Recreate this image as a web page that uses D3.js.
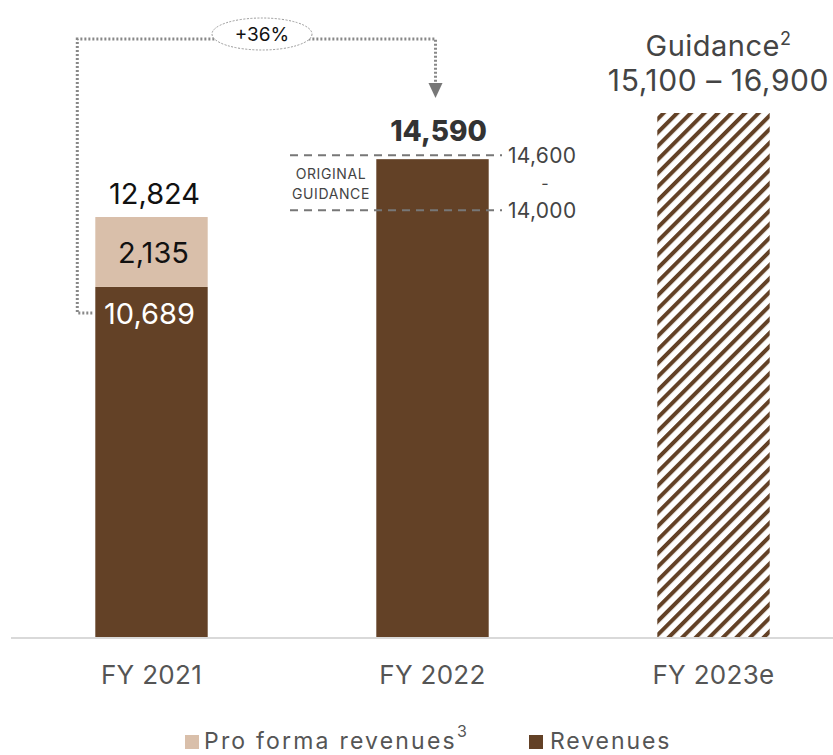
<!DOCTYPE html>
<html><head><meta charset="utf-8">
<script src="https://cdn.jsdelivr.net/npm/d3@7"></script>
<style>
body{margin:0;background:#fff;}
text{font-family:Inter, "Open Sans", sans-serif;}
</style></head>
<body><svg id="c" width="833" height="755"></svg>
<script>
const categories = ["FY 2021","FY 2022","FY 2023e"];
const revenues = [10689, 14590, null];
const proForma = [2135, 0, null];
const totals = [12824, 14590, null];
const guidanceMid = 16000;
const guidanceLabel = ["Guidance", "15,100 – 16,900"];
const originalGuidance = ["14,600", "14,000"];
const growthLabel = "+36%";
const legendItems = ["Pro forma revenues", "Revenues"];

const brown = "#634126", tan = "#d9bfaa";
const svg = d3.select("#c");
const x = d3.scaleBand().domain(categories).range([11, 854]).paddingInner(0.6).paddingOuter(0.3);
const y = d3.scaleLinear().domain([0, 16000]).range([637, 113]);

const defs = svg.append("defs");
const pat = defs.append("pattern").attr("id","hatch").attr("patternUnits","userSpaceOnUse")
  .attr("width",9.6).attr("height",9.6).attr("patternTransform","rotate(45)");
pat.append("rect").attr("width",9.6).attr("height",9.6).attr("fill","#fff");
pat.append("rect").attr("x",0).attr("width",4).attr("height",9.6).attr("fill",brown);

// axis line
svg.append("line").attr("x1",11).attr("x2",833).attr("y1",y(0)+1).attr("y2",y(0)+1)
  .attr("stroke","#d9d9d9").attr("stroke-width",2);

// bars
categories.forEach((c,i)=>{
  const bx = x(c), bw = x.bandwidth();
  if (revenues[i] != null) {
    svg.append("rect").attr("x",bx).attr("width",bw).attr("y",y(revenues[i])).attr("height",y(0)-y(revenues[i])).attr("fill",brown);
    if (proForma[i]) {
      svg.append("rect").attr("x",bx).attr("width",bw).attr("y",y(totals[i])).attr("height",y(revenues[i])-y(totals[i])).attr("fill",tan);
    }
  } else {
    svg.append("rect").attr("x",bx).attr("width",bw).attr("y",y(guidanceMid)).attr("height",y(0)-y(guidanceMid)).attr("fill","url(#hatch)");
  }
  svg.append("text").attr("x",bx+bw/2).attr("y",684).attr("text-anchor","middle")
    .attr("font-size",26).attr("fill","#555").attr("letter-spacing",0.3).text(c);
});

const cx = i => x(categories[i]) + x.bandwidth()/2;

// FY2021 labels
svg.append("text").attr("x",cx(0)+3).attr("y",y(totals[0])-13).attr("text-anchor","middle").attr("font-size",29).attr("fill","#111").text(d3.format(",")(totals[0]));
svg.append("text").attr("x",cx(0)+2).attr("y",(y(totals[0])+y(revenues[0]))/2+11).attr("text-anchor","middle").attr("font-size",29).attr("fill","#111").text(d3.format(",")(proForma[0]));
svg.append("text").attr("x",cx(0)-2).attr("y",y(revenues[0])+37).attr("text-anchor","middle").attr("font-size",29).attr("fill","#fff").text(d3.format(",")(revenues[0]));

// FY2022 label
svg.append("text").attr("x",cx(1)+6).attr("y",y(totals[1])-18).attr("text-anchor","middle").attr("font-size",28).attr("font-weight",800).attr("fill","#333").text(d3.format(",")(totals[1]));

// original guidance lines
const gTop = y(totals[1]) - 4, gBot = gTop + 55;
[gTop, gBot].forEach((gy,k)=>{
  svg.append("line").attr("x1",290).attr("x2",502).attr("y1",gy).attr("y2",gy)
    .attr("stroke","#777").attr("stroke-width",2).attr("stroke-dasharray","8,6");
  svg.append("text").attr("x",508).attr("y",gy+8).attr("font-size",21).attr("fill","#444").attr("letter-spacing",0.3).text(originalGuidance[k]);
});
svg.append("text").attr("x",545).attr("y",(gTop+gBot)/2+6).attr("text-anchor","middle").attr("font-size",16).attr("fill","#444").text("-");
svg.append("text").attr("x",331).attr("y",gTop+24).attr("text-anchor","middle").attr("font-size",14).attr("letter-spacing",0.6).attr("fill","#444").text("ORIGINAL");
svg.append("text").attr("x",331).attr("y",gTop+44).attr("text-anchor","middle").attr("font-size",14).attr("letter-spacing",0.6).attr("fill","#444").text("GUIDANCE");

// guidance text
const gt = svg.append("text").attr("x",cx(2)+5).attr("y",56).attr("text-anchor","middle").attr("font-size",29).attr("fill","#444").attr("letter-spacing",0.5);
gt.append("tspan").text(guidanceLabel[0]);
gt.append("tspan").attr("font-size",18).attr("dy",-11).text("2");
svg.append("text").attr("x",cx(2)+5).attr("y",91).attr("text-anchor","middle").attr("font-size",30).attr("fill","#444").attr("letter-spacing",0.6).text(guidanceLabel[1]);

// connector
const lx = x(categories[0]) - 18, rx = cx(1)+3, topY = 39;
svg.append("path").attr("d",`M${x(categories[0])-3},${y(revenues[0])+26} H${lx} V${topY} H${rx} V${85}`)
  .attr("fill","none").attr("stroke","#888").attr("stroke-width",3).attr("stroke-dasharray","2,2");
svg.append("path").attr("d",`M${rx-7},${83} L${rx+7},${83} L${rx},${98} Z`).attr("fill","#777");
svg.append("ellipse").attr("cx",262).attr("cy",34).attr("rx",50).attr("ry",16).attr("fill","#fff")
  .attr("stroke","#999").attr("stroke-width",1).attr("stroke-dasharray","2,1.5");
svg.append("text").attr("x",262).attr("y",41).attr("text-anchor","middle").attr("font-size",19).attr("fill","#111").text(growthLabel);

// legend
const lg = svg.append("g");
lg.append("rect").attr("x",185).attr("y",735).attr("width",14).attr("height",14).attr("fill",tan);
const l1 = lg.append("text").attr("x",204).attr("y",749).attr("font-size",23).attr("fill","#555").attr("letter-spacing",2.2);
l1.append("tspan").text(legendItems[0]);
l1.append("tspan").attr("font-size",16).attr("dy",-12).attr("dx",0).text("3");
lg.append("rect").attr("x",529).attr("y",735).attr("width",14).attr("height",14).attr("fill",brown);
lg.append("text").attr("x",550).attr("y",749).attr("font-size",23).attr("fill","#555").attr("letter-spacing",1.9).text(legendItems[1]);
</script></body></html>
